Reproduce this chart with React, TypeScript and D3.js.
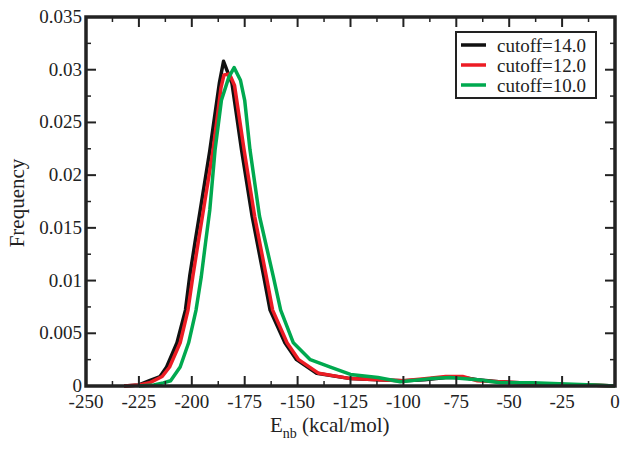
import React from "react";
import * as d3 from "d3";

const xTicks = [-250, -225, -200, -175, -150, -125, -100, -75, -50, -25, 0];
const yTicks = [0, 0.005, 0.01, 0.015, 0.02, 0.025, 0.03, 0.035];
const yTickLabels = ["0", "0.005", "0.01", "0.015", "0.02", "0.025", "0.03", "0.035"];

const seriesNames = ["cutoff=14.0", "cutoff=12.0", "cutoff=10.0"];
const seriesColors = ["#111111", "#ec1c24", "#00a94f"];

const blackX = [-232, -225, -220, -215, -211.9, -207, -203, -201, -198.5, -196, -191.5, -187, -185, -181, -176.5, -171.5, -166, -163, -156, -150.5, -141, -125, -112, -100, -90, -80, -72, -65, -55, -45, -35, -25, -12, 0];
const blackY = [0, 0.0001, 0.0005, 0.0009, 0.0018, 0.0041, 0.0072, 0.0104, 0.0136, 0.0167, 0.0223, 0.0287, 0.0308, 0.0287, 0.0224, 0.0161, 0.0104, 0.0072, 0.0041, 0.0025, 0.0012, 0.0007, 0.0006, 0.0005, 0.0006, 0.0008, 0.0008, 0.0006, 0.0004, 0.0003, 0.0002, 0.0001, 0.0001, 0];

const redX = [-232, -225, -220, -214, -210.5, -205.5, -201.8, -199.5, -197, -194.5, -190, -186.2, -184.8, -182.2, -179.8, -175.3, -170.3, -164.8, -161.8, -155, -149.5, -140, -125, -112, -100, -90, -80, -72, -65, -55, -45, -35, -25, -12, 0];
const redY = [0, 0.0001, 0.0003, 0.0009, 0.0018, 0.0041, 0.0072, 0.0104, 0.0136, 0.0167, 0.0223, 0.0283, 0.0295, 0.0296, 0.0285, 0.0224, 0.0161, 0.0104, 0.0072, 0.0041, 0.0025, 0.0012, 0.0007, 0.0006, 0.0005, 0.0007, 0.0009, 0.0009, 0.0005, 0.0004, 0.0003, 0.0002, 0.0001, 0.0001, 0];

const greenX = [-225, -218, -213.5, -210, -205.5, -201.5, -198, -195.5, -193.5, -191.5, -189, -186, -182.5, -180, -177, -175, -172.5, -168, -161.5, -158, -152, -144, -134.5, -125, -112, -101.5, -87, -78, -65, -54, -39, -23, -10, 0];
const greenY = [0, 0.0001, 0.0003, 0.0005, 0.0018, 0.0041, 0.0072, 0.0104, 0.0136, 0.0167, 0.0224, 0.0271, 0.0293, 0.0302, 0.029, 0.0271, 0.0224, 0.0161, 0.0104, 0.0072, 0.0041, 0.0025, 0.0018, 0.0011, 0.0008, 0.0004, 0.0007, 0.0008, 0.0006, 0.0003, 0.0003, 0.0002, 0.0001, 0];

const W = 629;
const H = 449;
const M = { left: 86, top: 17, right: 615, bottom: 386 };
const FONT = "Liberation Serif";

export default function App() {
  const x = d3.scaleLinear().domain([-250, 0]).range([M.left, M.right]);
  const y = d3.scaleLinear().domain([0, 0.035]).range([M.bottom, M.top]);
  const line = d3
    .line<[number, number]>()
    .x((d) => x(d[0]))
    .y((d) => y(d[1]));
  const series = [
    d3.zip(blackX, blackY) as [number, number][],
    d3.zip(redX, redY) as [number, number][],
    d3.zip(greenX, greenY) as [number, number][],
  ];
  const xMinor = d3.range(-237.5, 0, 25);
  const yMinor = d3.range(0.0025, 0.035, 0.005);
  const tickColor = "#222";

  return (
    <svg width={W} height={H} style={{ position: "absolute", left: 0, top: 0, background: "#fff" }}>
      <rect x={0} y={0} width={W} height={H} fill="#fff" />
      {series.map((s, i) => (
        <path key={i} d={line(s) || ""} fill="none" stroke={seriesColors[i]} strokeWidth={3.5} strokeLinejoin="round" />
      ))}
      {xTicks.map((t, i) => (
        <g key={"xt" + i}>
          <line x1={x(t)} x2={x(t)} y1={M.bottom} y2={M.bottom - 10} stroke={tickColor} strokeWidth={2} />
          <line x1={x(t)} x2={x(t)} y1={M.top} y2={M.top + 10} stroke={tickColor} strokeWidth={2} />
          <text x={x(t)} y={408} textAnchor="middle" fontFamily={FONT} fill="#222" fontSize={19}>
            {String(t)}
          </text>
        </g>
      ))}
      {xMinor.map((t, i) => (
        <g key={"xm" + i}>
          <line x1={x(t)} x2={x(t)} y1={M.bottom} y2={M.bottom - 5} stroke={tickColor} strokeWidth={1.5} />
          <line x1={x(t)} x2={x(t)} y1={M.top} y2={M.top + 5} stroke={tickColor} strokeWidth={1.5} />
        </g>
      ))}
      {yTicks.map((t, i) => (
        <g key={"yt" + i}>
          <line x1={M.left} x2={M.left + 10} y1={y(t)} y2={y(t)} stroke={tickColor} strokeWidth={2} />
          <line x1={M.right} x2={M.right - 10} y1={y(t)} y2={y(t)} stroke={tickColor} strokeWidth={2} />
          <text x={82} y={y(t) + 6} textAnchor="end" fontFamily={FONT} fill="#222" fontSize={19}>
            {yTickLabels[i]}
          </text>
        </g>
      ))}
      {yMinor.map((t, i) => (
        <g key={"ym" + i}>
          <line x1={M.left} x2={M.left + 5} y1={y(t)} y2={y(t)} stroke={tickColor} strokeWidth={1.5} />
          <line x1={M.right} x2={M.right - 5} y1={y(t)} y2={y(t)} stroke={tickColor} strokeWidth={1.5} />
        </g>
      ))}
      <rect x={M.left} y={M.top} width={M.right - M.left} height={M.bottom - M.top} fill="none" stroke="#222" strokeWidth={3.5} />
      <text x={270} y={432} fontFamily={FONT} fill="#222" fontSize={21}>
        E
        <tspan fontSize={14} dy={6}>nb</tspan>
        <tspan dy={-6}> (kcal/mol)</tspan>
      </text>
      <text transform={`translate(24,203) rotate(-90)`} textAnchor="middle" fontFamily={FONT} fill="#222" fontSize={21}>
        Frequency
      </text>
      <rect x={456} y={32} width={140} height={66} fill="#fff" stroke="#222" strokeWidth={2} />
      {seriesNames.map((n, i) => (
        <g key={"lg" + i}>
          <line x1={461} x2={486} y1={45 + i * 20} y2={45 + i * 20} stroke={seriesColors[i]} strokeWidth={3.5} />
          <text x={497} y={52 + i * 20} fontFamily={FONT} fill="#222" fontSize={19}>
            {n}
          </text>
        </g>
      ))}
    </svg>
  );
}
